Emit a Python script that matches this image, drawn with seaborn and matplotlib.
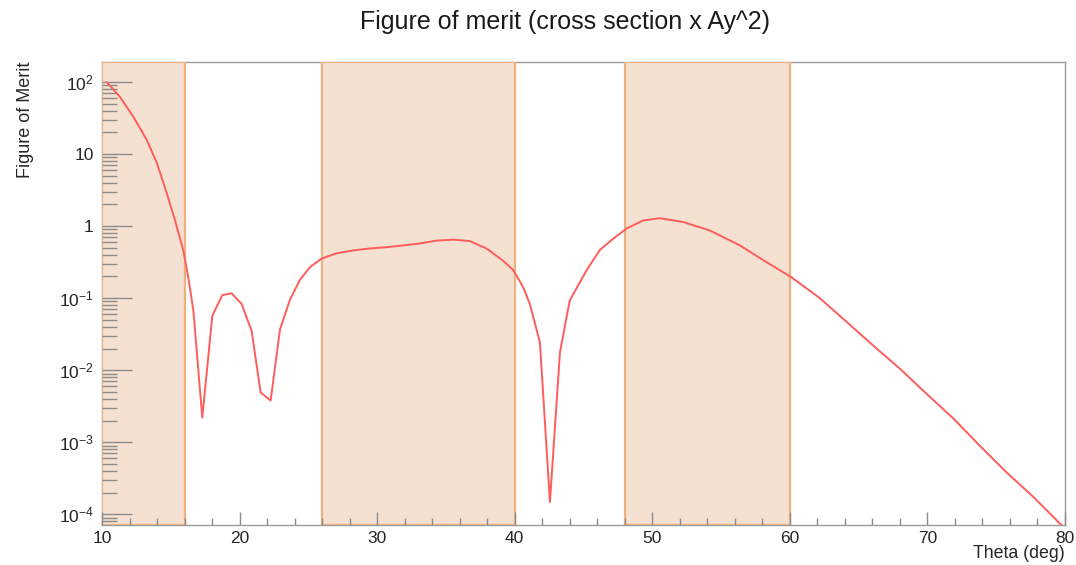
import matplotlib
matplotlib.use("Agg")
import matplotlib.pyplot as plt
import matplotlib.ticker as mticker
import numpy as np
import pandas as pd
import seaborn as sns

# ---- data ----
theta = [10.35, 11.31, 12.28, 13.25, 13.98, 14.70, 15.31, 15.91, 16.27, 16.64,
         17.29, 18.02, 18.74, 19.42, 20.15, 20.88, 21.53, 22.26, 22.94, 23.66,
         24.39, 25.12, 25.97, 27.06, 28.27, 29.48, 30.69, 31.90, 33.11, 34.32,
         35.53, 36.74, 37.95, 39.16, 39.90, 40.63, 41.10, 41.83, 42.56, 43.29,
         44.00, 45.23, 46.20, 47.17, 48.14, 49.34, 50.55, 52.25, 54.19, 56.37,
         58.31, 60.12, 62.18, 64.12, 66.06, 68.00, 69.94, 71.88, 73.82, 75.76,
         77.70, 79.64, 80.00]
fom = [100, 62, 33, 15.8, 7.6, 2.9, 1.2, 0.46, 0.195, 0.068,
       0.0022, 0.057, 0.11, 0.117, 0.083, 0.035, 0.0049, 0.0038, 0.037, 0.095,
       0.18, 0.27, 0.355, 0.42, 0.46, 0.49, 0.51, 0.54, 0.575, 0.63,
       0.65, 0.62, 0.49, 0.33, 0.245, 0.14, 0.083, 0.0245, 0.000148, 0.0178,
       0.093, 0.245, 0.47, 0.67, 0.93, 1.2, 1.29, 1.14, 0.87, 0.54,
       0.316, 0.195, 0.1, 0.047, 0.022, 0.0105, 0.0047, 0.00214, 0.00089, 0.00038,
       0.000174, 7.4e-5, 6.5e-5]
bands = [(10, 16), (26, 40), (48, 60)]
ytick_vals = [1e-4, 1e-3, 1e-2, 1e-1, 1, 10, 100]
ytick_labels = [r"$10^{-4}$", r"$10^{-3}$", r"$10^{-2}$", r"$10^{-1}$", "1", "10", r"$10^{2}$"]
xtick_vals = [10, 20, 30, 40, 50, 60, 70, 80]

df = pd.DataFrame({"theta": theta, "fom": fom})

sns.set_style("white")
plt.rcParams["font.family"] = ["Liberation Sans", "DejaVu Sans"]
plt.rcParams["mathtext.fontset"] = "custom"
plt.rcParams["mathtext.rm"] = "Liberation Sans"
plt.rcParams["mathtext.it"] = "Liberation Sans:italic"
plt.rcParams["mathtext.bf"] = "Liberation Sans:bold"

fig = plt.figure(figsize=(10.76, 5.65), dpi=100)
ax = fig.add_axes([102 / 1076, 1 - 525 / 565, (1065 - 102) / 1076, (525 - 62) / 565])

for a, b in bands:
    ax.axvspan(a, b, facecolor="#f4e1d1", edgecolor="#eeb27e", linewidth=1.6, zorder=0.3)

sns.lineplot(data=df, x="theta", y="fom", ax=ax, color="#ff5c5c", linewidth=1.4,
             zorder=3, sort=False, estimator=None)

ax.set_axisbelow(False)
ax.set_yscale("log")
ax.set_xlim(10, 80)
ax.set_ylim(7.1e-5, 190)

ax.set_xticks(xtick_vals)
ax.set_xticklabels([str(v) for v in xtick_vals])
ax.xaxis.set_minor_locator(mticker.MultipleLocator(2))
ax.set_yticks(ytick_vals)
ax.set_yticklabels(ytick_labels)
ax.yaxis.set_minor_locator(mticker.LogLocator(base=10, subs=np.arange(2, 10), numticks=20))
ax.yaxis.set_minor_formatter(mticker.NullFormatter())

ax.tick_params(axis="x", which="major", direction="in", length=9.5, width=1,
               color="#8c8c8c", labelsize=12.5, pad=4, bottom=True)
ax.tick_params(axis="x", which="minor", direction="in", length=5, width=1,
               color="#8c8c8c", bottom=True)
ax.tick_params(axis="y", which="major", direction="in", length=21.5, width=1,
               color="#8c8c8c", labelsize=12.5, pad=6, left=True)
ax.tick_params(axis="y", which="minor", direction="in", length=10.8, width=1,
               color="#8c8c8c", left=True)

for s in ax.spines.values():
    s.set_color("#9a9a9a")
    s.set_linewidth(1)
    s.set_zorder(0.2)

ax.set_xlabel("")
ax.set_ylabel("")
fig.text(1065 / 1076, 1 - 553 / 565, "Theta (deg)", ha="right", va="center", fontsize=12.8)
fig.text(26 / 1076, 1 - 62 / 565, "Figure of Merit", rotation=90, ha="center", va="top",
         fontsize=13)
fig.text(565 / 1076, 1 - 22 / 565, "Figure of merit (cross section x Ay^2)",
         ha="center", va="center", fontsize=18, color="#1a1a1a")

fig.savefig("out.png", dpi=100)
